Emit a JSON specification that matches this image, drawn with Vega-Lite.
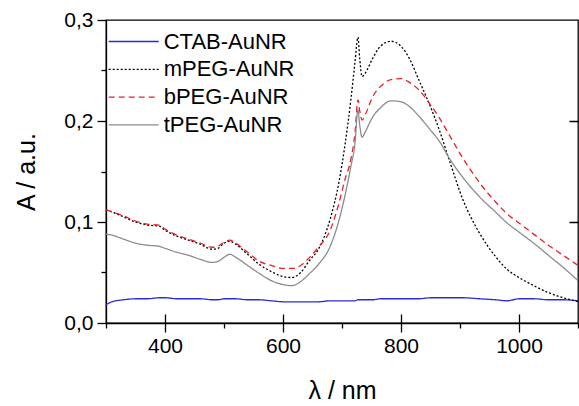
{
  "$schema": "https://vega.github.io/schema/vega-lite/v6.json",
  "width": 472,
  "height": 303,
  "autosize": {"type": "none"},
  "padding": {"left": 106, "top": 20, "right": 1, "bottom": 83},
  "config": {
    "font": "Liberation Sans",
    "view": {"stroke": "black", "strokeWidth": 1.3},
    "legend": {"orient": "none", "legendX": 16.7, "legendY": 10.5, "title": null, "symbolType": "M-3,0H3", "symbolSize": 278, "symbolStrokeWidth": 1.3, "labelFontSize": 22, "labelColor": "black", "labelFont": "Liberation Sans", "labelOffset": 19, "rowPadding": 5.8, "padding": 0, "symbolOpacity": 1}
  },
  "data": {
    "values": [
      {"w": 300, "CTAB-AuNR": 0.018, "mPEG-AuNR": 0.112, "bPEG-AuNR": 0.112, "tPEG-AuNR": 0.088},
      {"w": 310, "CTAB-AuNR": 0.021, "mPEG-AuNR": 0.110, "bPEG-AuNR": 0.110, "tPEG-AuNR": 0.087},
      {"w": 330, "CTAB-AuNR": 0.023, "mPEG-AuNR": 0.105, "bPEG-AuNR": 0.106, "tPEG-AuNR": 0.083},
      {"w": 350, "CTAB-AuNR": 0.024, "mPEG-AuNR": 0.100, "bPEG-AuNR": 0.101, "tPEG-AuNR": 0.079},
      {"w": 370, "CTAB-AuNR": 0.024, "mPEG-AuNR": 0.097, "bPEG-AuNR": 0.098, "tPEG-AuNR": 0.077},
      {"w": 390, "CTAB-AuNR": 0.025, "mPEG-AuNR": 0.096, "bPEG-AuNR": 0.097, "tPEG-AuNR": 0.076},
      {"w": 400, "CTAB-AuNR": 0.025, "mPEG-AuNR": 0.092, "bPEG-AuNR": 0.093, "tPEG-AuNR": 0.074},
      {"w": 420, "CTAB-AuNR": 0.024, "mPEG-AuNR": 0.086, "bPEG-AuNR": 0.087, "tPEG-AuNR": 0.070},
      {"w": 440, "CTAB-AuNR": 0.024, "mPEG-AuNR": 0.082, "bPEG-AuNR": 0.083, "tPEG-AuNR": 0.067},
      {"w": 460, "CTAB-AuNR": 0.024, "mPEG-AuNR": 0.078, "bPEG-AuNR": 0.079, "tPEG-AuNR": 0.063},
      {"w": 480, "CTAB-AuNR": 0.023, "mPEG-AuNR": 0.073, "bPEG-AuNR": 0.075, "tPEG-AuNR": 0.060},
      {"w": 490, "CTAB-AuNR": 0.023, "mPEG-AuNR": 0.074, "bPEG-AuNR": 0.076, "tPEG-AuNR": 0.061},
      {"w": 500, "CTAB-AuNR": 0.024, "mPEG-AuNR": 0.079, "bPEG-AuNR": 0.080, "tPEG-AuNR": 0.065},
      {"w": 510, "CTAB-AuNR": 0.024, "mPEG-AuNR": 0.081, "bPEG-AuNR": 0.082, "tPEG-AuNR": 0.068},
      {"w": 520, "CTAB-AuNR": 0.024, "mPEG-AuNR": 0.078, "bPEG-AuNR": 0.079, "tPEG-AuNR": 0.065},
      {"w": 540, "CTAB-AuNR": 0.023, "mPEG-AuNR": 0.068, "bPEG-AuNR": 0.070, "tPEG-AuNR": 0.057},
      {"w": 560, "CTAB-AuNR": 0.023, "mPEG-AuNR": 0.058, "bPEG-AuNR": 0.061, "tPEG-AuNR": 0.049},
      {"w": 580, "CTAB-AuNR": 0.022, "mPEG-AuNR": 0.051, "bPEG-AuNR": 0.057, "tPEG-AuNR": 0.042},
      {"w": 600, "CTAB-AuNR": 0.021, "mPEG-AuNR": 0.046, "bPEG-AuNR": 0.054, "tPEG-AuNR": 0.038},
      {"w": 615, "CTAB-AuNR": 0.021, "mPEG-AuNR": 0.045, "bPEG-AuNR": 0.054, "tPEG-AuNR": 0.037},
      {"w": 630, "CTAB-AuNR": 0.021, "mPEG-AuNR": 0.050, "bPEG-AuNR": 0.057, "tPEG-AuNR": 0.041},
      {"w": 645, "CTAB-AuNR": 0.021, "mPEG-AuNR": 0.062, "bPEG-AuNR": 0.065, "tPEG-AuNR": 0.049},
      {"w": 660, "CTAB-AuNR": 0.021, "mPEG-AuNR": 0.073, "bPEG-AuNR": 0.075, "tPEG-AuNR": 0.058},
      {"w": 680, "CTAB-AuNR": 0.022, "mPEG-AuNR": 0.103, "bPEG-AuNR": 0.092, "tPEG-AuNR": 0.076},
      {"w": 695, "CTAB-AuNR": 0.022, "mPEG-AuNR": 0.140, "bPEG-AuNR": 0.119, "tPEG-AuNR": 0.102},
      {"w": 705, "CTAB-AuNR": 0.022, "mPEG-AuNR": 0.176, "bPEG-AuNR": 0.142, "tPEG-AuNR": 0.126},
      {"w": 715, "CTAB-AuNR": 0.022, "mPEG-AuNR": 0.221, "bPEG-AuNR": 0.162, "tPEG-AuNR": 0.155},
      {"w": 722, "CTAB-AuNR": 0.022, "mPEG-AuNR": 0.258, "bPEG-AuNR": 0.188, "tPEG-AuNR": 0.178},
      {"w": 727, "CTAB-AuNR": 0.023, "mPEG-AuNR": 0.283, "bPEG-AuNR": 0.221, "tPEG-AuNR": 0.211},
      {"w": 730, "CTAB-AuNR": 0.023, "mPEG-AuNR": 0.262, "bPEG-AuNR": 0.210, "tPEG-AuNR": 0.196},
      {"w": 734, "CTAB-AuNR": 0.023, "mPEG-AuNR": 0.244, "bPEG-AuNR": 0.201, "tPEG-AuNR": 0.184},
      {"w": 740, "CTAB-AuNR": 0.023, "mPEG-AuNR": 0.248, "bPEG-AuNR": 0.207, "tPEG-AuNR": 0.190},
      {"w": 752, "CTAB-AuNR": 0.023, "mPEG-AuNR": 0.262, "bPEG-AuNR": 0.224, "tPEG-AuNR": 0.204},
      {"w": 765, "CTAB-AuNR": 0.024, "mPEG-AuNR": 0.274, "bPEG-AuNR": 0.234, "tPEG-AuNR": 0.213},
      {"w": 783, "CTAB-AuNR": 0.024, "mPEG-AuNR": 0.279, "bPEG-AuNR": 0.241, "tPEG-AuNR": 0.220},
      {"w": 800, "CTAB-AuNR": 0.024, "mPEG-AuNR": 0.274, "bPEG-AuNR": 0.242, "tPEG-AuNR": 0.219},
      {"w": 815, "CTAB-AuNR": 0.024, "mPEG-AuNR": 0.261, "bPEG-AuNR": 0.238, "tPEG-AuNR": 0.214},
      {"w": 830, "CTAB-AuNR": 0.024, "mPEG-AuNR": 0.241, "bPEG-AuNR": 0.231, "tPEG-AuNR": 0.205},
      {"w": 850, "CTAB-AuNR": 0.025, "mPEG-AuNR": 0.214, "bPEG-AuNR": 0.216, "tPEG-AuNR": 0.191},
      {"w": 865, "CTAB-AuNR": 0.025, "mPEG-AuNR": 0.191, "bPEG-AuNR": 0.203, "tPEG-AuNR": 0.180},
      {"w": 882, "CTAB-AuNR": 0.025, "mPEG-AuNR": 0.161, "bPEG-AuNR": 0.186, "tPEG-AuNR": 0.163},
      {"w": 905, "CTAB-AuNR": 0.025, "mPEG-AuNR": 0.122, "bPEG-AuNR": 0.163, "tPEG-AuNR": 0.144},
      {"w": 933, "CTAB-AuNR": 0.024, "mPEG-AuNR": 0.089, "bPEG-AuNR": 0.139, "tPEG-AuNR": 0.125},
      {"w": 960, "CTAB-AuNR": 0.023, "mPEG-AuNR": 0.066, "bPEG-AuNR": 0.120, "tPEG-AuNR": 0.110},
      {"w": 980, "CTAB-AuNR": 0.022, "mPEG-AuNR": 0.053, "bPEG-AuNR": 0.108, "tPEG-AuNR": 0.099},
      {"w": 1000, "CTAB-AuNR": 0.024, "mPEG-AuNR": 0.045, "bPEG-AuNR": 0.099, "tPEG-AuNR": 0.090},
      {"w": 1025, "CTAB-AuNR": 0.024, "mPEG-AuNR": 0.037, "bPEG-AuNR": 0.088, "tPEG-AuNR": 0.079},
      {"w": 1050, "CTAB-AuNR": 0.023, "mPEG-AuNR": 0.030, "bPEG-AuNR": 0.077, "tPEG-AuNR": 0.067},
      {"w": 1075, "CTAB-AuNR": 0.023, "mPEG-AuNR": 0.025, "bPEG-AuNR": 0.067, "tPEG-AuNR": 0.055},
      {"w": 1100, "CTAB-AuNR": 0.022, "mPEG-AuNR": 0.021, "bPEG-AuNR": 0.057, "tPEG-AuNR": 0.042}
    ]
  },
  "transform": [
    {"fold": ["CTAB-AuNR", "mPEG-AuNR", "bPEG-AuNR", "tPEG-AuNR"], "as": ["series", "A"]}
  ],
  "mark": {"type": "line", "strokeWidth": 1.3, "clip": true, "interpolate": "monotone"},
  "encoding": {
    "x": {
      "field": "w", "type": "quantitative",
      "scale": {"domain": [300, 1100], "nice": false, "zero": false},
      "axis": {
        "orient": "bottom",
        "values": [300, 400, 500, 600, 700, 800, 900, 1000, 1100],
        "labelExpr": "datum.value % 200 === 0 ? format(datum.value, 'd') : ''",
        "tickSize": {"condition": {"test": "datum.value % 200 === 0", "value": 9}, "value": 5},
        "tickColor": "black", "tickWidth": 1.3,
        "domainColor": "black", "domainWidth": 1.3,
        "labelFontSize": 21, "labelColor": "black", "labelPadding": 3, "labelFlush": false,
        "title": "λ / nm", "titleFontSize": 25, "titleFontWeight": "normal", "titleColor": "black", "titlePadding": 22,
        "grid": true, "gridColor": "black", "gridWidth": 1.3, "gridDash": [0, 294, 9, 0],
        "gridOpacity": {"condition": {"test": "datum.value % 200 === 0", "value": 1}, "value": 0}
      }
    },
    "y": {
      "field": "A", "type": "quantitative",
      "scale": {"domain": [0, 0.3], "nice": false},
      "axis": {
        "orient": "left",
        "values": [0, 0.05, 0.1, 0.15, 0.2, 0.25, 0.3],
        "labelExpr": "round(datum.value * 100) % 10 === 0 ? replace(format(datum.value, '.1f'), '.', ',') : ''",
        "tickSize": {"condition": {"test": "round(datum.value * 100) % 10 === 0", "value": 9}, "value": 5},
        "tickColor": "black", "tickWidth": 1.3,
        "domainColor": "black", "domainWidth": 1.3,
        "labelFontSize": 21, "labelColor": "black", "labelPadding": 4, "labelFlush": false,
        "title": "A / a.u.", "titleFontSize": 25, "titleFontWeight": "normal", "titleColor": "black", "titlePadding": 24,
        "grid": true, "gridColor": "black", "gridWidth": 1.3, "gridDash": [0, 463, 9, 0],
        "gridOpacity": {"condition": {"test": "round(datum.value * 100) === 10 || round(datum.value * 100) === 20", "value": 1}, "value": 0}
      }
    },
    "color": {
      "field": "series", "type": "nominal",
      "scale": {"domain": ["CTAB-AuNR", "mPEG-AuNR", "bPEG-AuNR", "tPEG-AuNR"], "range": ["#2a2ad6", "#000000", "#e8202a", "#8c8c8c"]}
    },
    "strokeDash": {
      "field": "series", "type": "nominal",
      "scale": {"domain": ["CTAB-AuNR", "mPEG-AuNR", "bPEG-AuNR", "tPEG-AuNR"], "range": [[1, 0], [2, 2], [6, 4], [1, 0]]}
    }
  }
}
